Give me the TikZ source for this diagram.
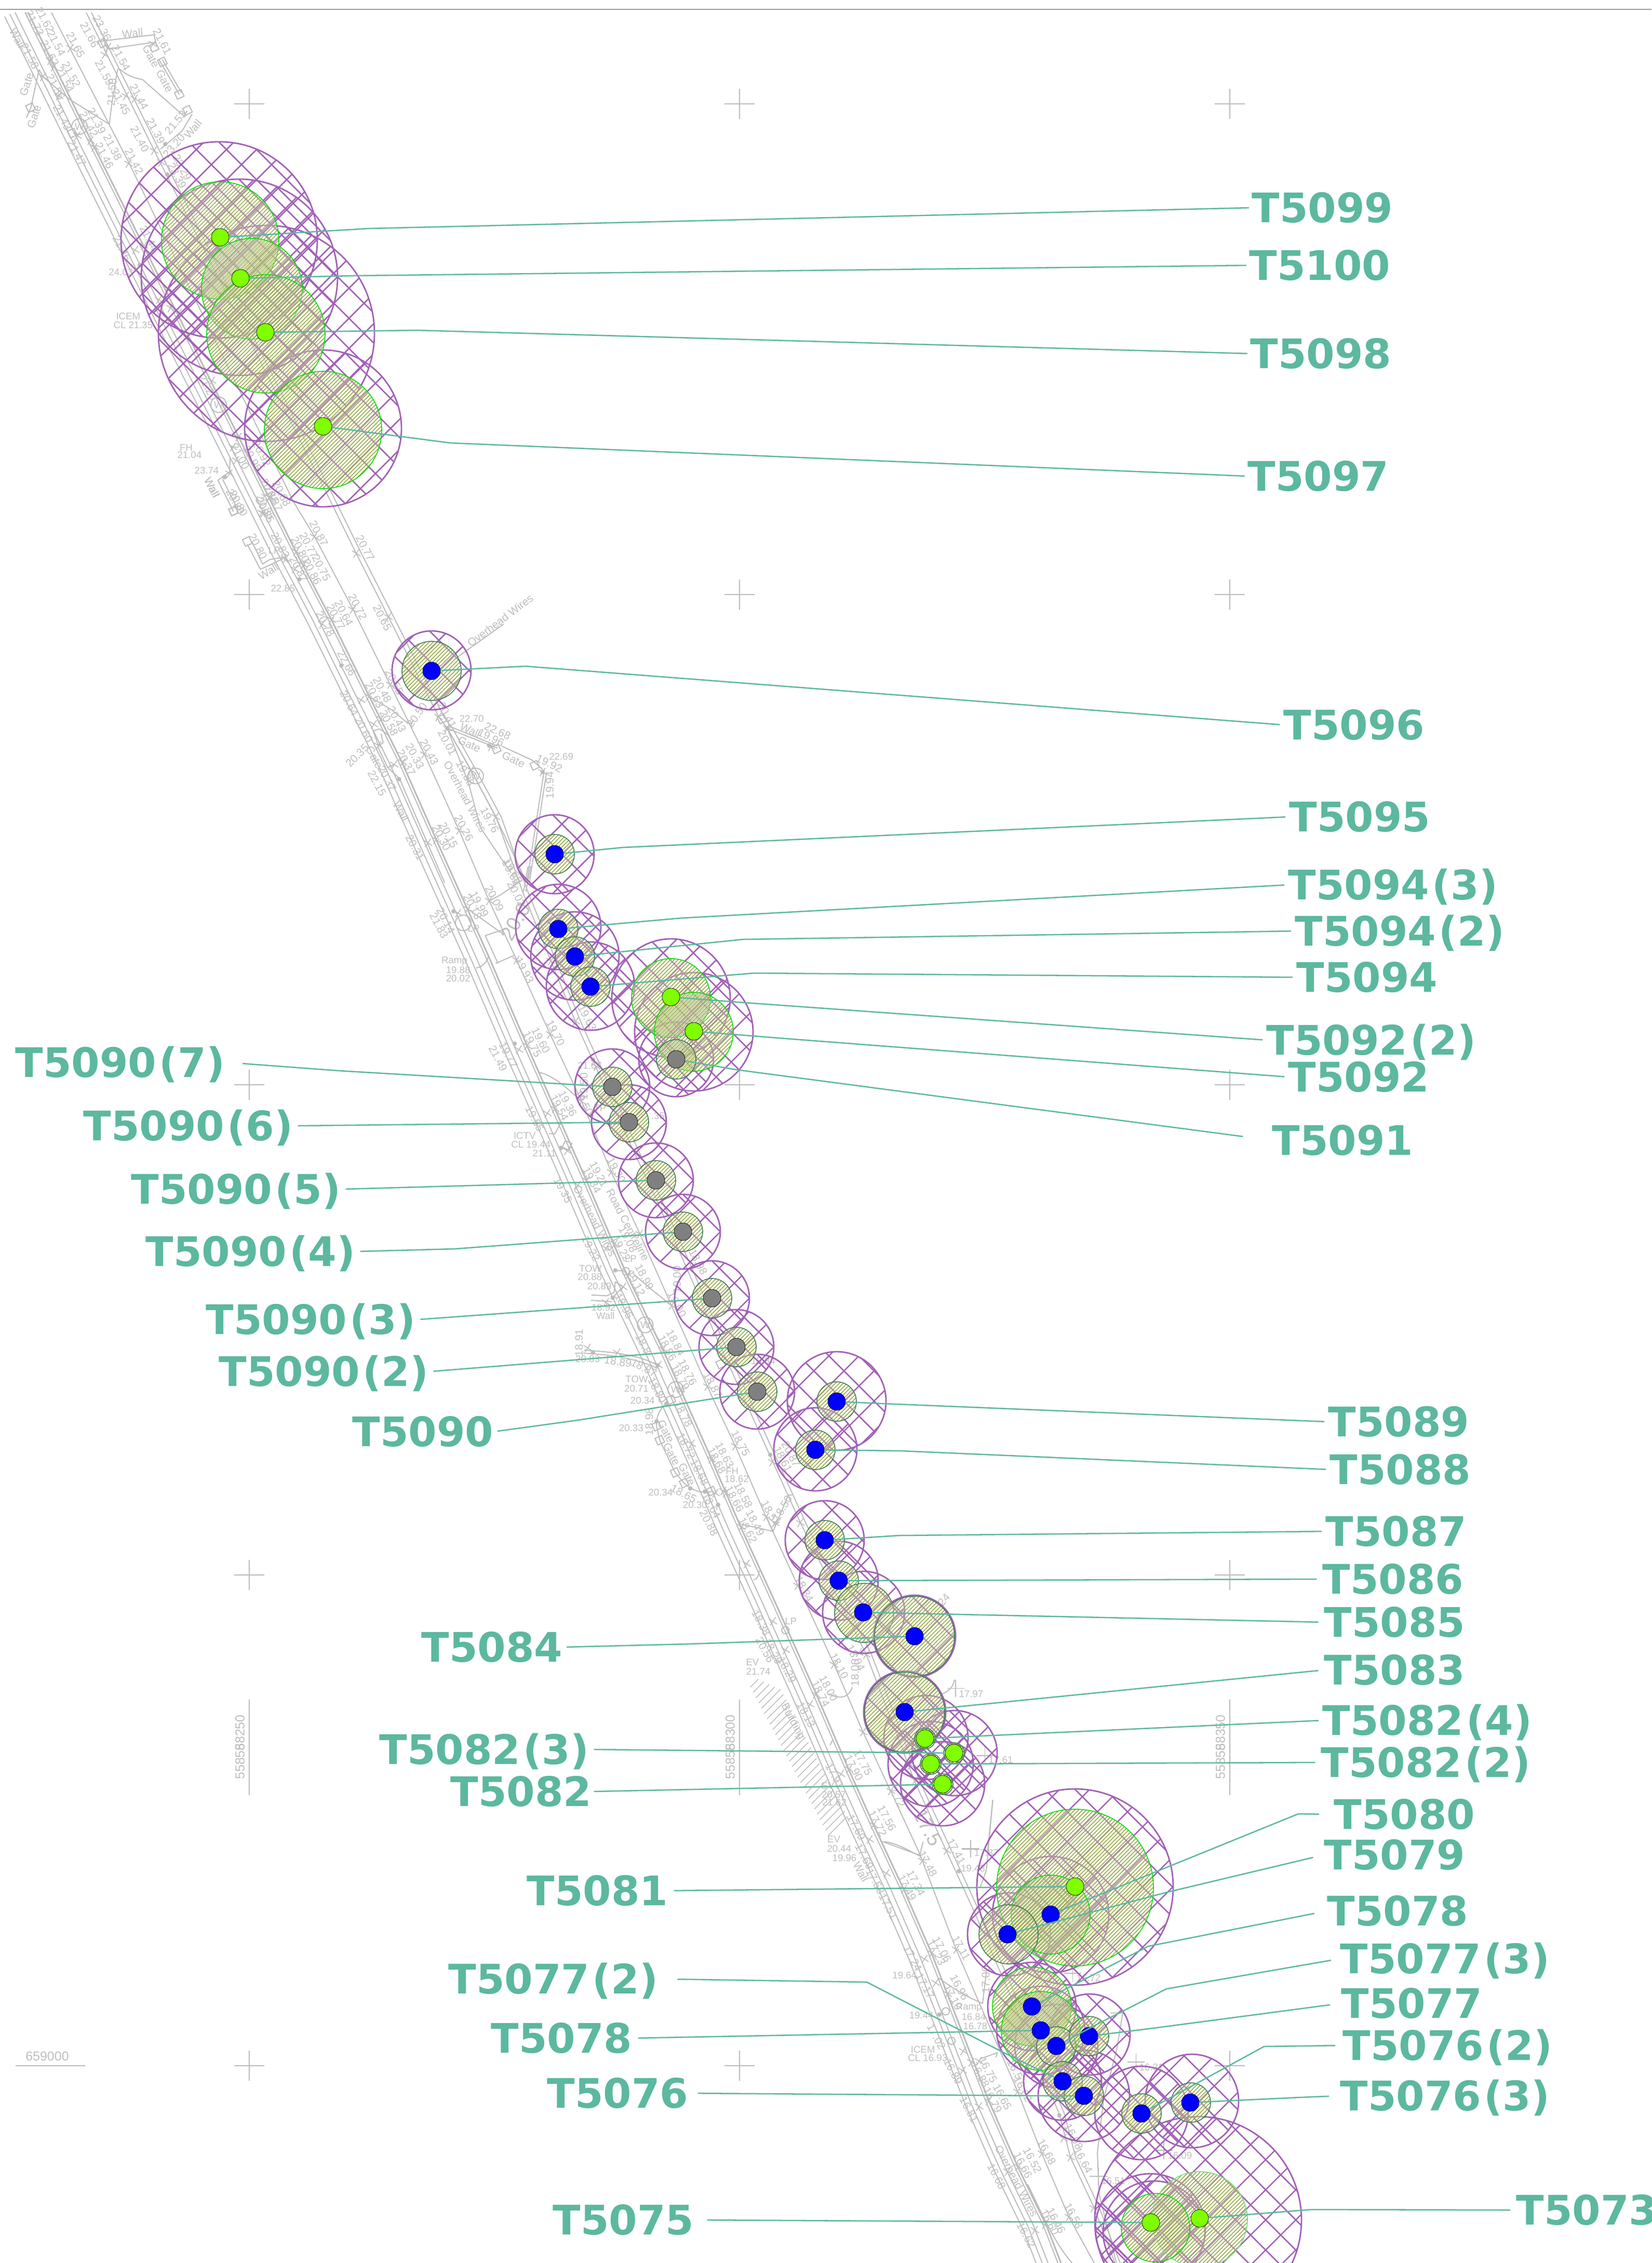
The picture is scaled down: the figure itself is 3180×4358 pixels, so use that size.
\documentclass[tikz,border=0pt]{standalone}
\usepackage{fontspec}
\setmainfont{Liberation Sans}
\newfontfamily\labf{DejaVu Sans}
\usetikzlibrary{shapes.misc}
\definecolor{mapc}{HTML}{BBBBBB}
\definecolor{maptx}{HTML}{BFBFBF}
\definecolor{purp}{HTML}{A260B6}
\definecolor{oliv}{HTML}{8FA53A}
\definecolor{gB}{HTML}{00DC00}
\definecolor{gD}{HTML}{3E7D55}
\definecolor{gL}{HTML}{72E07A}
\definecolor{teal}{HTML}{5CB89F}
\definecolor{lime}{HTML}{7FFF00}
\definecolor{dotblue}{HTML}{0000FF}
\definecolor{dotgray}{HTML}{808080}
\tikzset{
  mp/.style={draw=mapc,line width=.55pt,line join=round},
  mpt/.style={draw=mapc,line width=.85pt,line join=round},
  sp/.style={text=maptx,font=\fontsize{6}{7}\selectfont,inner sep=0pt,align=center},
  sph/.style={text=maptx,font=\fontsize{5.3}{6}\selectfont,inner sep=0pt,align=center},
  spg/.style={text=maptx,font=\fontsize{7.1}{8}\selectfont,inner sep=0pt,align=center},
  mk/.style={draw=mapc,cross out,minimum size=.12cm,inner sep=0pt,line width=.45pt,rotate=12},
  pl/.style={draw=mapc,cross out,minimum size=.22cm,inner sep=0pt,line width=.5pt,rotate=45},
  gc/.style={fill=mapc,draw=mapc,circle,minimum size=.07cm,inner sep=0pt},
  gt/.style={draw=mapc,rectangle,minimum size=.14cm,inner sep=0pt,line width=.55pt},
  wc/.style={draw=mapc,circle,minimum size=.3cm,inner sep=0pt,line width=.55pt,text=maptx,font=\fontsize{5.5}{6}\selectfont},
  xhl/.style={draw=purp,line width=.72pt},
  ring/.style={draw=purp,line width=.8pt},
  fhl/.style={draw=oliv,line width=.4pt},
  lab/.style={text=teal,font=\labf\bfseries\fontsize{22.3}{24}\selectfont,inner sep=0pt,text height=.57cm,text depth=0cm},
  lead/.style={draw=teal,line width=.72pt,line join=round},
  dot/.style={circle,draw=black,line width=.2pt,minimum size=.34cm,inner sep=0pt},
}
\newcommand\pn[1]{\kern1.5pt(#1)\kern1.5pt}
\newcommand\txt[2]{\foreach \vx/\vy/\vt in {#2}{\node[sp,rotate=#1] at (\vx,\vy){\vt};}}
\newcommand\htxt[1]{\foreach \vx/\vy/\vt in {#1}{\node[sph] at (\vx,\vy){\vt};}}
\newcommand\mks[1]{\foreach \vx/\vy in {#1}{\node[mk] at (\vx,\vy){};}}
\newcommand\gcs[1]{\foreach \vx/\vy in {#1}{\node[gc] at (\vx,\vy){};}}
\newcommand\pls[1]{\foreach \vx/\vy in {#1}{\node[pl] at (\vx,\vy){};}}
\newcommand\gts[2]{\foreach \vx/\vy in {#2}{\node[gt,rotate=#1] at (\vx,\vy){};}}
\newcommand\LOne[1]{\draw[#1] plot coordinates {(99,24)(249,315)(565,966)(606,1034)(680,1174)(751,1318)(817,1452)(884,1599)(942,1735)(995,1849)(1059,1991)(1120,2121)(1177,2257)(1232,2376)(1293,2514)(1362,2670)(1416,2785)(1475,2921)(1537,3055)(1606,3205)(1662,3336)(1715,3449)(1771,3570)(1841,3754)(1960,4029)(2006,4147)(2058,4269)(2107,4358)};}
\newcommand\LTwo[1]{\draw[#1] plot coordinates {(166,24)(297,290)(627,946)(686,1066)(748,1188)(845,1381)(861,1402)(907,1484)(955,1573)(1007,1719)(1061,1851)(1108,1967)(1146,2052)(1215,2206)(1267,2317)(1321,2439)(1376,2568)(1444,2718)(1488,2815)(1542,2934)(1668,3186)(1761,3430)(1822,3564)(1878,3686)(1940,3830)(2040,4072)(2061,4154)(2107,4252)(2147,4358)};}
\newcommand\LThree[1]{\draw[#1] plot coordinates {(54,24)(182,284)(570,1063)(638,1193)(711,1341)(774,1468)(840,1617)(941,1842)(1015,2014)(1068,2134)(1129,2273)(1204,2448)(1276,2598)(1370,2810)(1426,2940)(1490,3080)(1572,3263)(1634,3407)(1682,3514)(1740,3638)(1794,3762)(1904,4046)(1960,4173)(2015,4286)(2043,4358)};}
\newcommand\outerc[3]{%
  \begin{scope}
    \clip (#1,#2) circle (#3);
    \pgfmathtruncatemacro\nn{1.45*#3/58+1}
    \foreach \kk in {-\nn,...,\nn}{
      \pgfmathsetmacro\dd{\kk*58+14}
      \draw[xhl] ({#1+\dd-#3},{#2-#3}) -- ({#1+\dd+#3},{#2+#3});
      \draw[xhl] ({#1+\dd-#3},{#2+#3}) -- ({#1+\dd+#3},{#2-#3});
    }
  \end{scope}
  \draw[ring] (#1,#2) circle (#3);}
\newcommand\innerc[4]{%
  \fill[white,fill opacity=.3] (#1,#2) circle (#3);
  \begin{scope}
    \clip (#1,#2) circle (#3);
    \pgfmathtruncatemacro\nn{1.45*#3/7.5}
    \foreach \kk in {-\nn,...,\nn}{
      \pgfmathsetmacro\dd{\kk*7.5}
      \draw[fhl] ({#1+\dd-#3},{#2+#3}) -- ({#1+\dd+#3},{#2-#3});
    }
  \end{scope}
  \draw[draw=#4,line width=.45pt] (#1,#2) circle (#3);}
\begin{document}
\begin{tikzpicture}[x=0.01cm,y=-0.01cm]
\useasboundingbox (0,0) rectangle (3180,4358);
\fill[white] (0,0) rectangle (3180,4358);
% top rule
\draw[draw=black!40,line width=.8pt] (0,18) -- (3180,18);
% grid crosses
\foreach \gx in {480,1424,2368}\foreach \gy in {200,1145,2089,3033,3978}{
  \draw[mp] (\gx-29,\gy) -- (\gx+29,\gy);
  \draw[mp] (\gx,\gy-29) -- (\gx,\gy+29);}
\foreach \gx in {480,1424,2368}{
  \draw[mp] (\gx,3273) -- (\gx,3457);
  \node[spg,rotate=90] at (\gx-18,3392){55858};}
\node[spg,rotate=90] at (462,3337){58250};
\node[spg,rotate=90] at (1406,3337){58300};
\node[spg,rotate=90] at (2350,3337){58350};
\draw[mp] (30,3978) -- (164,3978);
\node[spg] at (91,3960){659000};
% road lines
\LOne{mp}
\LTwo{mp}
\LTwo{mp,shift={(10,0)}}
\LThree{mpt}
\LThree{mp,shift={(-6,0)}}
\LThree{mp,shift={(-25,0)}}
\LThree{mp,shift={(-35,3)}}
\LThree{mp,shift={(-45,8)}}
% zoom 1 region
\begin{scope}[scale=.6378]
\draw[mp] (300,125) -- (465,105) -- (472,135) (325,148) -- (310,115) (325,148) -- (462,128);
\draw[mp] (480,180) -- (541,285) (490,180) -- (548,280);
\draw[mp] (118,210) -- (130,232) -- (210,300) -- (330,375) -- (338,310) -- (355,210);
\draw[mp] (355,210) .. controls (362,200) and (370,230) .. (430,240) -- (555,350) -- (565,335) (580,345) -- (550,395) -- (485,450);
\draw[mp] (118,210) -- (93,325) -- (80,355);
\draw[mp] (695,1380) -- (693,1425) -- (658,1450) -- (705,1545) (672,1447) -- (714,1530);
\gts{25}{490/187,541/285,92/325,465/143,218/402,705/1543,566/333,310/130}
\node[wc] at (240,382){W};
\node[wc] at (660,1222){W};
\mks{213/145,152/183,162/203,130/232,178/290,380/290,407/298,316/165,327/142,462/133,273/425,285/445,388/494,465/455,487/490,234/410,408/755,435/742,480/905,515/930,540/945,640/1150,720/1320,703/1350,713/1390,693/1430,815/1500,795/1550}
\gcs{499/435,505/527,422/800,678/1440,720/1320}
\txt{-62}{105/70/21.73,135/60/21.62,228/135/21.65,170/130/21.54,150/160/21.62,215/225/21.52,195/240/21.54,168/262/21.56,188/355/21.43,292/365/21.39,268/375/21.42,232/462/21.47,340/445/21.38,315/470/21.46,405/487/21.42,422/420/21.40,470/395/21.39,365/308/21.45,315/220/21.59,420/292/21.44,365/175/21.54,270/105/21.66,308/85/23.36,490/125/21.61,456/170/Gate,497/245/Gate,368/750/21.46,550/505/23.29,535/530/23.39,725/1378/21.00,640/1472/Wall,720/1520/20.80,790/1370/20.92,762/1385/20.95,850/1490/20.88,825/1505/20.87,800/1540/20.85,52/115/Wall,90/170/21.58,450/720/21.44,628/1170/21.20}
\txt{72}{80/255/Gate,103/352/Gate}
\txt{85}{338/278/21.50}
\txt{50}{530/370/21.53,582/390/Wall,525/440/23.20}
\txt{5}{400/100/Wall}
\htxt{365/822/24.03,387/955/ICEM,402/982/CL 21.35,562/1352/FH,572/1373/21.04,624/1421/23.74}
\end{scope}
% zoom 5 region
\begin{scope}[shift={(300,900)},scale=.5102]
\draw[mp] (345,290) -- (395,385) -- (480,345) (365,285) -- (403,365) -- (430,348) -- (480,340) -- (500,360);
\draw[mp] (1312,592) -- (1140,715);
\draw[mp] (805,865) -- (890,915) -- (950,965) -- (965,968) -- (972,955);
\draw[mp] (1100,985) -- (1290,1060) (1103,975) -- (1290,1052) (1305,1052) -- (1420,1105) -- (1460,1140);
\draw[mp] (1465,1150) -- (1400,1568) (1475,1150) -- (1410,1568);
\draw[mp] (1100,985) -- (1190,1143) -- (1283,1320) -- (1400,1568);
\draw[mp] (1100,985) -- (1180,1190) -- (1225,1360) -- (1340,1530);
\draw[mp] (840,1050) -- (820,995) -- (845,987) -- (880,1013) (840,1050) -- (858,1040) -- (850,1005);
\draw[mp] (838,1055) -- (875,1133) -- (900,1122) (875,1133) -- (920,1175) -- (1090,1568);
\gts{25}{345/280,293/165,1080/950,1285/1063,1430/1125}
\node[wc] at (1207,1165){W};
\mks{428/113,400/172,598/262,757/325,530/318,558/368,525/385,490/345,743/537,878/565,663/575,628/592,885/820,805/865,775/878,850/950,823/970,840/1050,1013/1083,932/1113,900/1122,1190/1143,1283/1320,1145/1370,1058/1405,1027/1418,1067/942,1100/985,1265/1055,1460/1150}
\gcs{260/37,542/422,700/748,918/1177,1100/985,1460/1150,1258/1050}
\txt{-62}{615/250/20.87,790/305/20.77,385/298/20.80,470/295/20.83,577/295/20.77,545/310/20.80,625/380/20.75,590/395/20.86,540/385/20.87,762/527/20.72,855/568/20.65,710/550/20.64,680/565/20.77,640/590/20.78,720/740/22.66,855/840/20.48,825/860/20.63,730/890/20.64,785/990/20.60,910/950/20.43,880/965/20.58,900/810/20.55,1100/935/20.41,1032/1075/20.43,978/1090/20.33,945/1115/20.37,825/1095/Gate,872/1175/20.37,835/1192/22.15,925/1298/Wall,1168/1155/19.88,1168/1243/Overhead Wires,1100/1040/20.01,1260/1332/19.76,1163/1362/20.26,1105/1388/20.15,1078/1398/20.30,978/1435/20.31,1342/1530/19.65,300/130/20.80,212/75/Wall,430/90/20.85,415/150/20.85}
\htxt{480/457/22.85,1192/948/22.70,447/313/LP,1530/1092/22.69}
\txt{30}{425/393/Wall}
\txt{37}{1300/578/Overhead Wires}
\txt{45}{760/1088/20.35}
\txt{55}{985/935/20.50}
\txt{-25}{1187/992/Wall,1290/995/22.68,1265/1020/19.96,1183/1045/Gate,1350/1103/Gate,1485/1118/19.92}
\txt{90}{1487/1200/19.94}
\end{scope}
% zoom 6 region
\begin{scope}[shift={(700,1650)},scale=.4464]
\draw[mp] (450,225) -- (590,325) -- (610,335);
\draw[mp] (542,190) -- (590,165) -- (685,100);
\draw[mp] (690,150) -- (710,40) (700,150) -- (722,40);
\draw[mp] (525,340) -- (580,460) (525,340) -- (615,310) (570,460) -- (650,425);
\draw[mp] (485,480) .. controls (515,475) and (535,450) .. (540,425);
\draw[mp] (760,930) .. controls (830,950) and (880,1000) .. (940,1055);
\draw[mp] (800,1195) -- (825,1195) -- (850,1150);
\gts{-25}{878/1245}
\node[wc] at (430,285){};
\mks{542/190,450/225,408/243,660/445,805/765,706/815,670/832,1005/905,940/1055,825/1087,793/1107,878/1268,1068/1360,962/1397,925/1417,915/710,808/450}
\gcs{388/235,652/806,852/1256,990/875}
\txt{-62}{660/160/20.02,565/180/20.09,500/205/19.99,470/215/20.18,355/275/20.14,325/297/21.83,695/490/19.93,965/695/19.63,828/760/19.70,765/792/19.60,728/808/19.75,625/855/19.77,580/870/21.49,950/1060/19.50,880/1065/19.36,845/1082/19.54,738/1130/19.55,1090/1352/19.30,1015/1370/19.21,985/1395/19.34,860/1438/19.35,645/60/19.65}
\txt{90}{950/990/19.50}
\node[sp,rotate=60,font=\fontsize{11}{12}\selectfont] at (655,280){20.0};
\htxt{475/310/LP,392/450/Ramp,408/488/19.88,408/525/20.02,975/900/21.67,1020/1085/TP,695/1202/ICTV,722/1242/CL 19.44,780/1280/21.11,1270/1118/.35}
\end{scope}
% zoom 4 region
\begin{scope}[shift={(1000,2300)},scale=.5102]
\draw[mp] (362,287) -- (400,290);
\draw[mp] (272,380) -- (330,383) -- (358,370) -- (362,330) -- (392,348) -- (352,390) (270,400) -- (350,405);
\draw[mp] (430,300) -- (500,360) -- (575,420);
\draw[mp] (245,588) .. controls (350,595) and (450,605) .. (522,645) (242,600) .. controls (350,605) and (440,620) .. (518,655);
\draw[mp] (555,790) .. controls (530,810) and (515,840) .. (518,875);
\draw[mp] (518,875) -- (530,928) -- (588,1050) -- (622,1090) .. controls (650,1115) and (680,1130) .. (725,1122);
\draw[mp] (838,1245) -- (958,1272) -- (1015,1135) -- (1030,1135) (932,1217) -- (958,1272);
\draw[mp] (905,1420) .. controls (905,1440) and (895,1455) .. (885,1455);
\gts{25}{572/775,518/875,530/928,588/1050,622/1090,725/1120,760/640}
\node[wc] at (475,493){W};
\node[wc] at (590,737){W};
\node[draw=mapc,circle,minimum size=.14cm,inner sep=0pt,line width=.55pt] at (402,290){};
\mks{327/203,360/187,455/150,412/303,392/350,327/408,575/420,258/580,370/598,542/585,525/645,710/725,610/737,650/942,725/1000,815/950,955/1010,740/1128,770/1120,780/1128,932/1217,965/1240,838/1255,858/1395,1060/1240,1050/1477}
\gcs{362/287,352/390,278/597,522/645,555/790,518/857,645/1110,700/1122,750/1172,947/983}
\txt{-62}{285/100/Overhead Wires,410/115/Road Centreline,270/205/19.22,385/205/19.22,410/170/19.08,472/312/18.99,440/335/19.12,675/255/18.98,595/415/19.00,395/422/18.95,468/565/18.8,590/560/18.84,558/580/18.86,635/672/18.76,608/690/18.79,520/740/18.80,730/720/18.87,618/830/18.78,553/895/Gate,575/980/Gate,632/1057/Gate,630/950/18.72,680/1050/18.68,775/985/18.63,745/1005/18.68,835/940/18.75,845/1135/18.58,812/1150/18.66,725/1175/18.64,715/1240/20.88,948/1205/18.54,890/1240/18.49,862/1268/18.62,1025/980/20.87,995/1000/18.61,1075/1490/18.34}
\txt{-28}{620/1130/18.65,470/655/18.87}
\txt{-8}{372/632/18.89}
\txt{60}{993/1185/18.50}
\txt{90}{225/560/18.91,490/858/18.98,595/322/19.00}
\htxt{420/243/LP,268/280/TOW,266/312/20.88,302/347/20.89,318/428/18.92,325/458/Wall,258/622/20.83,443/698/TOW,442/733/20.71,465/778/20.34,422/882/20.33,803/1045/FH,820/1075/18.62,533/1125/20.34,663/1173/20.30,920/630/18.84}
\end{scope}
% zoom 7 region
\begin{scope}[shift={(1200,2800)},scale=.5102]
\foreach \ii in {0,...,28}{
  \pgfmathsetmacro\hx{480+10.5*\ii}
  \pgfmathsetmacro\hy{880+20*\ii}
  \pgfmathsetmacro\hl{\ii<4?30+10*\ii:72}
  \draw[mp,line width=.4pt] (\hx,\hy) -- ({\hx+\hl},{\hy-\hl});}
\draw[mp] (775,905) .. controls (810,925) and (850,925) .. (865,880);
\draw[mp] (1250,852) .. controls (1245,880) and (1230,895) .. (1205,905);
\draw[mp] (985,1465) -- (1120,1515);
\draw[mp] (1395,1305) -- (1375,1500);
\draw[mp] (790,1080) -- (780,1100);
\node[draw=mapc,circle,minimum size=.14cm,inner sep=0pt,line width=.55pt] at (612,665){};
\mks{565/632,890/750,917/757,795/795,727/908,705/945,905/1050,822/1208,852/1190,1010/1272,945/1400,930/1455,1102/1232,1085/1175,613/740}
\pls{1255/885,1365/1138,1310/1490}
\txt{-62}{520/638/18.38,565/745/18.29,535/740/20.56,618/815/18.29,878/770/18.04,815/800/18.10,775/885/18.00,745/905/18.74,690/985/18.13,640/1010/Building,905/1165/17.75,870/1185/17.90,798/1215/17.91,1030/1285/17.72,995/1375/17.56,960/1395/17.72,880/1410/17.69,910/1520/17.69}
\txt{90}{875/825/18.00}
\txt{50}{1210/550/24}
\node[sp,rotate=-62,font=\fontsize{11}{12}\selectfont] at (1150,1410){17.5};
\htxt{633/632/LP,488/787/EV,510/822/21.74,1313/905/17.97,1425/1155/17.61,772/1253/EV,795/1285/20.57,797/1315/21.62,795/1455/EV,815/1490/20.44,835/1525/19.96}
\end{scope}
% zoom 3 region
\begin{scope}[shift={(1600,3400)},scale=.6108]
\draw[mp] (160,240) .. controls (200,240) and (240,265) .. (280,285) (280,285) -- (290,240);
\draw[mp] (510,110) -- (490,330) -- (470,385);
\draw[mp] (880,780) -- (920,780) -- (900,900) -- (860,1050) -- (840,1220) -- (845,1350) -- (900,1568);
\draw[mp] (340,670) .. controls (380,700) and (430,730) .. (478,750) -- (490,650);
\draw[mp] (470,925) -- (525,905) -- (520,920);
\draw[mp] (620,1320) .. controls (660,1400) and (700,1500) .. (760,1568);
\node[draw=mapc,circle,minimum size=.14cm,inner sep=0pt,line width=.55pt] at (362,775){};
\node[draw=mapc,circle,minimum size=.14cm,inner sep=0pt,line width=.55pt] at (380,868){};
\mks{365/268,288/300,230/390,175/340,395/580,318/592,295/610,330/685,368/720,417/900,467/932,443/935,415/962,497/1058,467/1075,588/1028,665/1223,590/1265,557/1280,733/1175,755/1235,750/1423,828/1395,675/1448,643/1465}
\gcs{403/333,342/785,720/1103}
\pls{440/263,762/655,962/935,1050/1213,843/1295}
\txt{-62}{305/310/17.48,395/270/17.41,140/365/17.58,268/370/17.34,240/385/17.49,180/445/17.51,95/335/Wall,350/580/17.06,332/590/17.23,410/575/17.11,258/608/17.24,297/695/17.17,405/700/16.96,385/730/17.10,332/855/17.02,385/965/16.89,495/960/16.75,470/975/16.88,435/1085/16.81,540/1045/16.65,510/1055/16.79,580/958/16.5,605/1020/16.62,680/1218/16.68,635/1245/16.52,605/1260/16.66,765/1170/16.08,795/1245/16.64,585/1310/Overhead Wires,522/1295/16.68,710/1435/16.46,690/1440/16.60,765/1420/16.58,615/1480/16.62}
\txt{90}{488/675/17.00}
\htxt{490/275/17.87,448/325/19.48,232/662/19.64,812/670/16.72,435/763/Ramp,450/792/16.84,455/822/16.78,285/788/19.44,290/895/ICEM,305/922/CL 16.93,1010/952/16.31,1100/1230/16.09,890/1310/16.51}
\end{scope}
% outer crosshatched circles
\foreach \vx/\vy/\vr in {422/462/189,461/534/189,513/642/208,622/825/151,831/1291/76,1068/1645/76,1075/1785/82,1107/1841/85,1137/1899/85,1292/1922/114,1336/1987/114,1302/2040/72,1179/2092/72,1211/2161/72,1263/2273/72,1315/2372/72,1371/2500/72,1418/2594/72,1458/2680/72,1611/2698/95,1570/2791/80,1588/2966/76,1615/3044/76,1663/3105/79,1761/3151/79,1742/3297/79,1783/3346/81,1838/3376/82,1792/3397/82,1815/3435/81,2070/3634/189,2023/3687/112,1943/3725/80,1987/3864/85,2004/3910/85,2034/3940/80,2098/3918/78,2046/4008/75,2087/4036/88,2198/4069/90,2295/4046/90,2307/4275/199,2215/4292/106,2222/4298/98}
  {\outerc{\vx}{\vy}{\vr}}
% inner fine-hatched circles
\foreach \vx/\vy/\vr/\vc in {424/463/113/gB,485/556/97/gB,512/643/114/gB,622/828/113/gB,831/1292/57/gD,1068/1645/38/gD,1075/1789/38/gD,1107/1842/38/gD,1137/1900/38/gD,1292/1922/76/gB,1336/1987/76/gB,1302/2040/38/gD,1179/2093/38/gD,1211/2161/38/gD,1263/2273/38/gD,1315/2372/38/gD,1371/2500/38/gD,1418/2594/38/gD,1458/2680/38/gD,1611/2699/38/gD,1570/2792/38/gD,1588/2966/38/gD,1615/3044/38/gD,1664/3106/57/gD,1761/3151/77/gD,1742/3297/77/gD,1781/3348/20/gD,1837/3376/20/gD,1792/3397/20/gD,1815/3436/20/gD,2070/3635/151/gB,2023/3687/76/gB,1942/3725/57/gD,1987/3864/76/gB,2004/3911/76/gB,2034/3941/38/gD,2097/3921/38/gD,2046/4008/38/gD,2087/4036/38/gD,2198/4070/38/gD,2293/4049/38/gD,2310/4274/92/gL,2225/4290/66/gB}
  {\innerc{\vx}{\vy}{\vr}{\vc}}
% dots
\node[dot,fill=lime] (d5099) at (424,457) {};
\node[dot,fill=lime] (d5100) at (463,536) {};
\node[dot,fill=lime] (d5098) at (511,640) {};
\node[dot,fill=lime] (d5097) at (622,821) {};
\node[dot,fill=dotblue] (d5096) at (831,1292) {};
\node[dot,fill=dotblue] (d5095) at (1068,1645) {};
\node[dot,fill=dotblue] (d5094c) at (1075,1789) {};
\node[dot,fill=dotblue] (d5094b) at (1107,1842) {};
\node[dot,fill=dotblue] (d5094) at (1137,1900) {};
\node[dot,fill=lime] (d5092b) at (1292,1920) {};
\node[dot,fill=lime] (d5092) at (1336,1986) {};
\node[dot,fill=dotgray] (d5091) at (1302,2040) {};
\node[dot,fill=dotgray] (d5090g) at (1179,2093) {};
\node[dot,fill=dotgray] (d5090f) at (1211,2161) {};
\node[dot,fill=dotgray] (d5090e) at (1263,2273) {};
\node[dot,fill=dotgray] (d5090d) at (1315,2372) {};
\node[dot,fill=dotgray] (d5090c) at (1371,2500) {};
\node[dot,fill=dotgray] (d5090b) at (1418,2594) {};
\node[dot,fill=dotgray] (d5090) at (1458,2680) {};
\node[dot,fill=dotblue] (d5089) at (1611,2699) {};
\node[dot,fill=dotblue] (d5088) at (1570,2792) {};
\node[dot,fill=dotblue] (d5087) at (1588,2966) {};
\node[dot,fill=dotblue] (d5086) at (1615,3044) {};
\node[dot,fill=dotblue] (d5085) at (1662,3105) {};
\node[dot,fill=dotblue] (d5084) at (1761,3151) {};
\node[dot,fill=dotblue] (d5083) at (1742,3297) {};
\node[dot,fill=lime] (d5082d) at (1781,3348) {};
\node[dot,fill=lime] (d5082c) at (1837,3376) {};
\node[dot,fill=lime] (d5082b) at (1792,3397) {};
\node[dot,fill=lime] (d5082) at (1815,3436) {};
\node[dot,fill=lime] (d5081) at (2070,3633) {};
\node[dot,fill=dotblue] (d5080) at (2023,3687) {};
\node[dot,fill=dotblue] (d5079) at (1940,3725) {};
\node[dot,fill=dotblue] (d5078r) at (1987,3864) {};
\node[dot,fill=dotblue] (d5078l) at (2004,3910) {};
\node[dot,fill=dotblue] (d5077c) at (2034,3940) {};
\node[dot,fill=dotblue] (d5077) at (2097,3921) {};
\node[dot,fill=dotblue] (d5077b) at (2046,4008) {};
\node[dot,fill=dotblue] (d5076) at (2087,4036) {};
\node[dot,fill=dotblue] (d5076b) at (2198,4070) {};
\node[dot,fill=dotblue] (d5076c) at (2292,4049) {};
\node[dot,fill=lime] (d5075) at (2216,4280) {};
\node[dot,fill=lime] (d5073) at (2310,4272) {};
% labels, right side
\node[lab,anchor=west] (L5099) at (2410,400) {T5099};
\node[lab,anchor=west] (L5100) at (2405,511) {T5100};
\node[lab,anchor=west] (L5098) at (2407,681) {T5098};
\node[lab,anchor=west] (L5097) at (2402,917) {T5097};
\node[lab,anchor=west] (L5096) at (2471,1396) {T5096};
\node[lab,anchor=west] (L5095) at (2482,1573) {T5095};
\node[lab,anchor=west] (L5094c) at (2480,1704) {T5094\pn{3}};
\node[lab,anchor=west] (L5094b) at (2493,1793) {T5094\pn{2}};
\node[lab,anchor=west] (L5094) at (2496,1882) {T5094};
\node[lab,anchor=west] (L5092b) at (2438,2003) {T5092\pn{2}};
\node[lab,anchor=west] (L5092) at (2480,2074) {T5092};
\node[lab,anchor=west] (L5091) at (2449,2196) {T5091};
\node[lab,anchor=west] (L5089) at (2557,2738) {T5089};
\node[lab,anchor=west] (L5088) at (2560,2830) {T5088};
\node[lab,anchor=west] (L5087) at (2552,2949) {T5087};
\node[lab,anchor=west] (L5086) at (2546,3041) {T5086};
\node[lab,anchor=west] (L5085) at (2549,3124) {T5085};
\node[lab,anchor=west] (L5083) at (2549,3216) {T5083};
\node[lab,anchor=west] (L5082d) at (2546,3313) {T5082\pn{4}};
\node[lab,anchor=west] (L5082b) at (2543,3394) {T5082\pn{2}};
\node[lab,anchor=west] (L5080) at (2568,3494) {T5080};
\node[lab,anchor=west] (L5079) at (2549,3572) {T5079};
\node[lab,anchor=west] (L5078r) at (2555,3680) {T5078};
\node[lab,anchor=west] (L5077c) at (2580,3772) {T5077\pn{3}};
\node[lab,anchor=west] (L5077) at (2582,3858) {T5077};
\node[lab,anchor=west] (L5076b) at (2585,3939) {T5076\pn{2}};
\node[lab,anchor=west] (L5076c) at (2580,4036) {T5076\pn{3}};
\node[lab,anchor=west] (L5073) at (2919,4256) {T5073};
% labels, left side
\node[lab,anchor=east] (L5090g) at (439,2046) {T5090\pn{7}};
\node[lab,anchor=east] (L5090f) at (570,2168) {T5090\pn{6}};
\node[lab,anchor=east] (L5090e) at (662,2290) {T5090\pn{5}};
\node[lab,anchor=east] (L5090d) at (690,2410) {T5090\pn{4}};
\node[lab,anchor=east] (L5090c) at (806,2541) {T5090\pn{3}};
\node[lab,anchor=east] (L5090b) at (831,2641) {T5090\pn{2}};
\node[lab,anchor=east] (L5090) at (951,2757) {T5090};
\node[lab,anchor=east] (L5084) at (1084,3172) {T5084};
\node[lab,anchor=east] (L5082c) at (1140,3369) {T5082\pn{3}};
\node[lab,anchor=east] (L5082) at (1140,3450) {T5082};
\node[lab,anchor=east] (L5081) at (1287,3641) {T5081};
\node[lab,anchor=east] (L5077b) at (1273,3811) {T5077\pn{2}};
\node[lab,anchor=east] (L5078l) at (1218,3925) {T5078};
\node[lab,anchor=east] (L5076) at (1326,4031) {T5076};
\node[lab,anchor=east] (L5075) at (1337,4275) {T5075};
% leaders
\draw[lead,shorten >=1.5pt] (d5099) -- (711,440) -- (L5099.west);
\draw[lead,shorten >=1.5pt] (d5100) -- (681,531) -- (L5100.west);
\draw[lead,shorten >=1.5pt] (d5098) -- (803,636) -- (L5098.west);
\draw[lead,shorten >=1.5pt] (d5097) -- (867,853) -- (L5097.west);
\draw[lead,shorten >=2pt] (d5096) -- (1012,1283) -- (L5096.west);
\draw[lead,shorten >=2pt] (d5095) -- (1199,1632) -- (L5095.west);
\draw[lead,shorten >=2pt] (d5094c) -- (1311,1768) -- (L5094c.west);
\draw[lead,shorten >=2pt] (d5094b) -- (1431,1809) -- (L5094b.west);
\draw[lead,shorten >=2pt] (d5094) -- (1452,1874) -- (L5094.west);
\draw[lead,shorten >=2pt] (d5092b) -- (1436,1931) -- (L5092b.west);
\draw[lead,shorten >=2pt] (d5092) -- (1525,2001) -- (L5092.west);
\draw[lead,shorten >=16pt] (d5091) -- (1418,2060) -- (L5091.west);
\draw[lead,shorten >=2pt] (d5089) -- (1700,2703) -- (L5089.west);
\draw[lead,shorten >=2pt] (d5088) -- (1735,2794) -- (L5088.west);
\draw[lead,shorten >=2pt] (d5087) -- (1731,2957) -- (L5087.west);
\draw[lead,shorten >=3pt] (d5086) -- (L5086.west);
\draw[lead,shorten >=3pt] (d5085) -- (L5085.west);
\draw[lead,shorten >=3pt] (d5083) -- (L5083.west);
\draw[lead,shorten >=2pt] (d5082d) -- (L5082d.west);
\draw[lead,shorten >=3pt] (d5082b) -- (L5082b.west);
\draw[lead,shorten >=8pt] (d5080) -- (2500,3493) -- (L5080.west);
\draw[lead,shorten >=6pt] (d5079) -- (2247,3644) -- (L5079.west);
\draw[lead,shorten >=7pt] (d5078r) -- (2211,3748) -- (L5078r.west);
\draw[lead,shorten >=5pt] (d5077c) -- (2107,3901) -- (2246,3830) -- (L5077c.west);
\draw[lead,shorten >=6pt] (d5077) -- (2211,3907) -- (L5077.west);
\draw[lead,shorten >=4pt] (d5076b) -- (2434,3941) -- (L5076b.west);
\draw[lead,shorten >=6pt] (d5076c) -- (2504,4039) -- (L5076c.west);
\draw[lead,shorten >=3pt] (d5073) -- (2525,4255) -- (L5073.west);
\draw[lead,shorten >=8pt] (d5090g) -- (653,2062) -- (L5090g.east);
\draw[lead,shorten >=1pt] (d5090f) -- (L5090f.east);
\draw[lead,shorten >=1pt] (d5090e) -- (L5090e.east);
\draw[lead,shorten >=1pt] (d5090d) -- (876,2405) -- (L5090d.east);
\draw[lead,shorten >=1pt] (d5090c) -- (L5090c.east);
\draw[lead,shorten >=1pt] (d5090b) -- (L5090b.east);
\draw[lead,shorten >=2pt] (d5090) -- (1112,2735) -- (L5090.east);
\draw[lead,shorten >=2pt] (d5084) -- (1322,3166) -- (L5084.east);
\draw[lead,shorten >=1pt] (d5082c) -- (L5082c.east);
\draw[lead,shorten >=1pt] (d5082) -- (L5082.east);
\draw[lead,shorten >=3pt] (d5081) -- (L5081.east);
\draw[lead,shorten >=9pt] (d5077b) -- (1933,3953) -- (1669,3817) -- (L5077b.east);
\draw[lead,shorten >=3pt] (d5078l) -- (L5078l.east);
\draw[lead,shorten >=5pt] (d5076) -- (2021,4036) -- (L5076.east);
\draw[lead,shorten >=7pt] (d5075) -- (L5075.east);
\end{tikzpicture}
\end{document}
